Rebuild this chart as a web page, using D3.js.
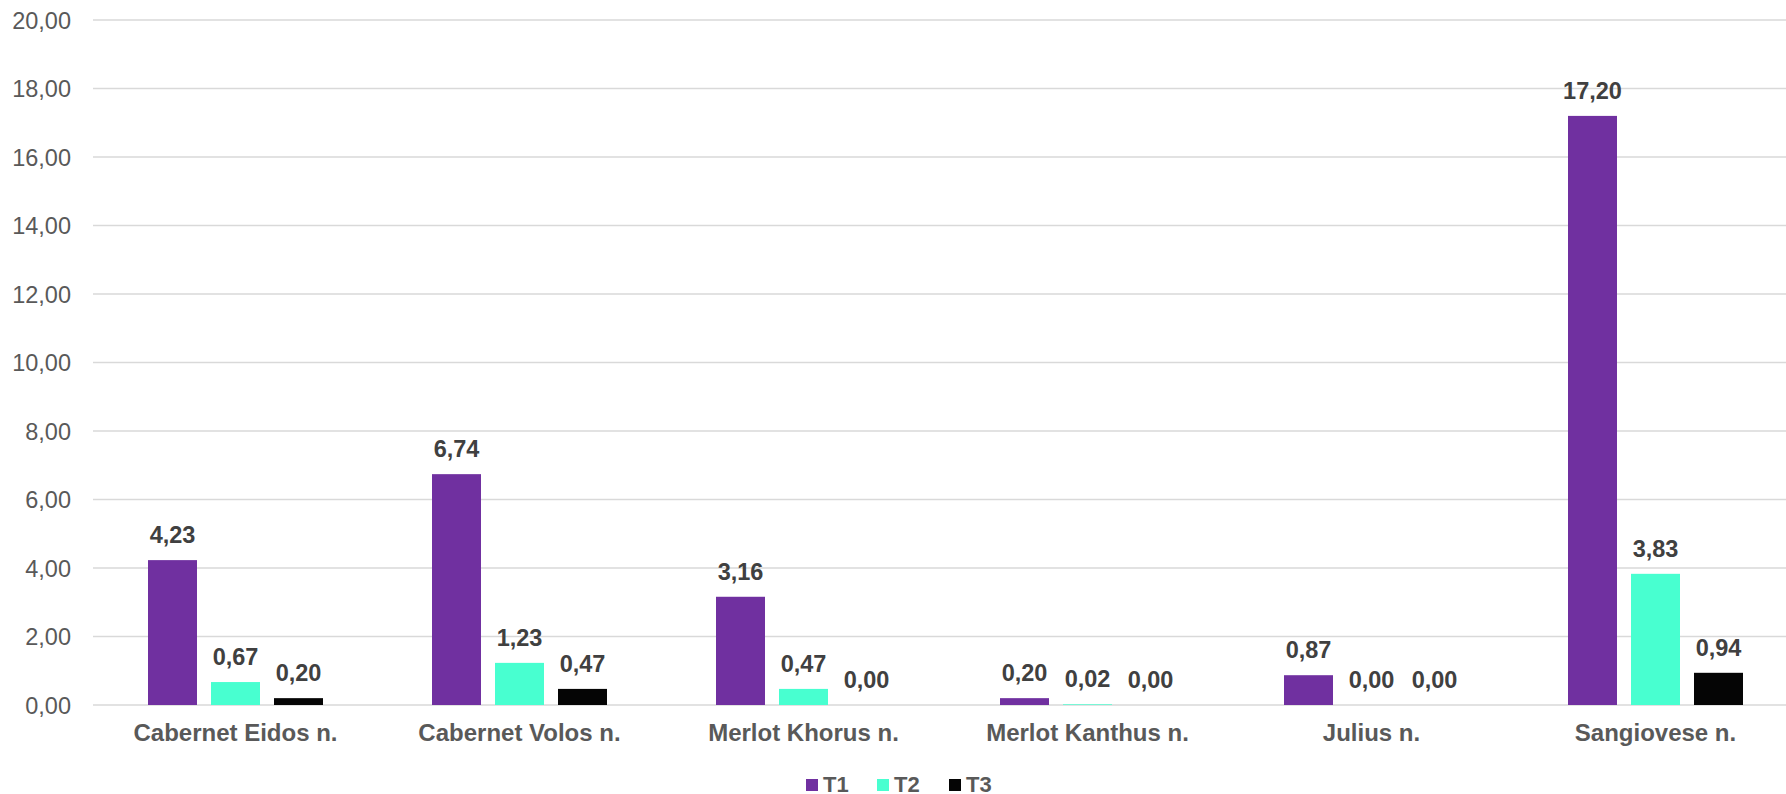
<!DOCTYPE html>
<html>
<head>
<meta charset="utf-8">
<script src="https://cdn.jsdelivr.net/npm/d3@7"></script>
<style>
  html, body { margin: 0; padding: 0; background: #fff; overflow: hidden; }
  text { font-family: "Liberation Sans", Arial, sans-serif; }
</style>
</head>
<body>
<script>
// data
var categories = ['Cabernet Eidos n.', 'Cabernet Volos n.', 'Merlot Khorus n.', 'Merlot Kanthus n.', 'Julius n.', 'Sangiovese n.'];
var seriesNames = ['T1', 'T2', 'T3'];
var t1 = [4.23, 6.74, 3.16, 0.20, 0.87, 17.20];
var t2 = [0.67, 1.23, 0.47, 0.02, 0.00, 3.83];
var t3 = [0.20, 0.47, 0.00, 0.00, 0.00, 0.94];
var yTicks = [0, 2, 4, 6, 8, 10, 12, 14, 16, 18, 20];
var colors = ['#7030A0', '#48FFD0', '#050505'];

var _w = 1786, _h = 794;
var svg = d3.select('body').append('svg')
    .attr('width', _w).attr('height', _h);

var x = d3.scaleBand().domain(categories).range([93.5, 1797.5]);
var xs = d3.scaleBand().domain(seriesNames).range([0, 175]).paddingInner(14 / 63);
var y = d3.scaleLinear().domain([0, 20]).range([705, 20]);
var fmt = function(v) { return v.toFixed(2).replace('.', ','); };

// grid lines
svg.append('g').selectAll('line').data(yTicks).enter().append('line')
    .attr('x1', 93).attr('x2', _w)
    .attr('y1', function(d) { return y(d); }).attr('y2', function(d) { return y(d); })
    .attr('stroke', '#d9d9d9').attr('stroke-width', 1.5);

// y axis labels
svg.append('g').selectAll('text').data(yTicks).enter().append('text')
    .attr('x', 71).attr('y', function(d) { return y(d) + 8.5; })
    .attr('text-anchor', 'end')
    .style('font-size', '23.5px').attr('fill', '#595959')
    .text(fmt);

var rows = [];
categories.forEach(function(c, i) {
    rows.push({ cat: c, s: 'T1', v: t1[i], k: 0 });
    rows.push({ cat: c, s: 'T2', v: t2[i], k: 1 });
    rows.push({ cat: c, s: 'T3', v: t3[i], k: 2 });
});
var off = (x.bandwidth() - 175) / 2;

svg.append('g').selectAll('rect').data(rows).enter().append('rect')
    .attr('x', function(d) { return x(d.cat) + off + xs(d.s); })
    .attr('width', xs.bandwidth())
    .attr('y', function(d) { return y(d.v); })
    .attr('height', function(d) { return y(0) - y(d.v); })
    .attr('fill', function(d) { return colors[d.k]; });

svg.append('g').selectAll('text').data(rows).enter().append('text')
    .attr('x', function(d) { return x(d.cat) + off + xs(d.s) + xs.bandwidth() / 2; })
    .attr('y', function(d) { return y(d.v) - 17; })
    .attr('text-anchor', 'middle')
    .style('font-size', '23.5px').style('font-weight', 'bold').attr('fill', '#404040')
    .text(function(d) { return fmt(d.v); });

// category labels
svg.append('g').selectAll('text').data(categories).enter().append('text')
    .attr('x', function(d) { return x(d) + x.bandwidth() / 2; })
    .attr('y', 741)
    .attr('text-anchor', 'middle')
    .style('font-size', '24px').style('font-weight', 'bold').attr('fill', '#595959')
    .text(function(d) { return d; });

// legend
var legX = [806, 877, 949];
var leg = svg.append('g').selectAll('g').data(seriesNames).enter().append('g');
leg.append('rect')
    .attr('x', function(d, i) { return legX[i]; }).attr('y', 779)
    .attr('width', 12).attr('height', 12)
    .attr('fill', function(d, i) { return colors[i]; });
leg.append('text')
    .attr('x', function(d, i) { return legX[i] + 17; }).attr('y', 792)
    .style('font-size', '22px').style('font-weight', 'bold').attr('fill', '#595959')
    .text(function(d) { return d; });
</script>
</body>
</html>
